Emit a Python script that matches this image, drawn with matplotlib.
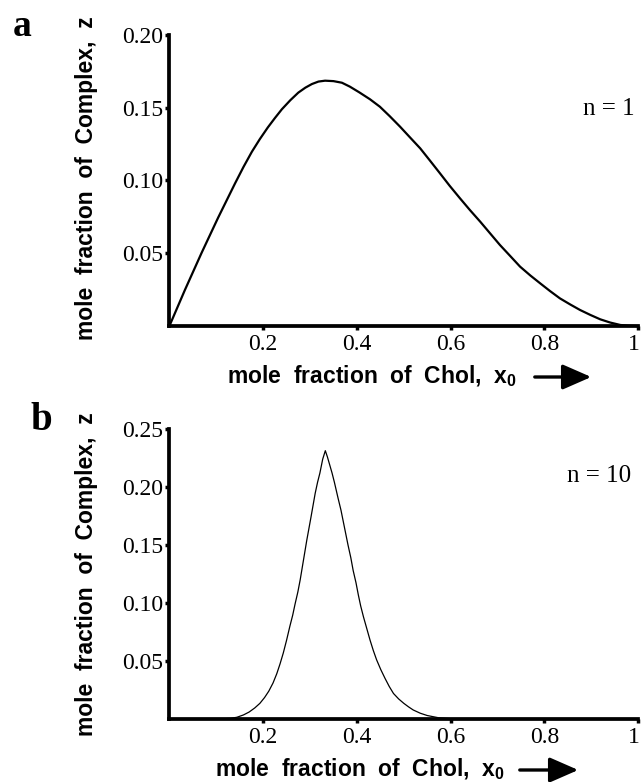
import matplotlib
matplotlib.use("Agg")
import matplotlib.pyplot as plt
from matplotlib.patches import FancyArrowPatch
from matplotlib.transforms import ScaledTranslation

# panel a: n = 1
x_a = [0.0, 0.033, 0.069, 0.104, 0.140, 0.158, 0.176, 0.193, 0.210, 0.225,
       0.240, 0.258, 0.275, 0.290, 0.304, 0.318, 0.332, 0.350, 0.368, 0.385,
       0.405, 0.428, 0.449, 0.470, 0.492, 0.513, 0.535, 0.556, 0.577, 0.598,
       0.620, 0.641, 0.663, 0.684, 0.705, 0.727, 0.748, 0.770, 0.791, 0.812,
       0.833, 0.855, 0.876, 0.898, 0.919, 0.940, 0.962, 0.980, 1.0]
z_a = [0.0, 0.0247, 0.0505, 0.0745, 0.098, 0.1093, 0.1198, 0.1285, 0.1365, 0.1429,
       0.149, 0.1552, 0.1604, 0.1638, 0.1663, 0.168, 0.1686, 0.1683, 0.1672, 0.1645,
       0.1606, 0.1558, 0.1507, 0.1442, 0.137, 0.1297, 0.1221, 0.1136, 0.105, 0.0963,
       0.0877, 0.0797, 0.0717, 0.0637, 0.0557, 0.0481, 0.0408, 0.0347, 0.0293, 0.0240,
       0.019, 0.0148, 0.011, 0.0076, 0.0046, 0.0024, 0.0007, 0.0002, 0.0]

# panel b: n = 10
x_b = [0.0, 0.10, 0.130, 0.144, 0.158, 0.17, 0.182, 0.193, 0.203, 0.212,
       0.221, 0.229, 0.236, 0.243, 0.250, 0.257, 0.263, 0.268, 0.274, 0.279,
       0.286, 0.293, 0.302, 0.311, 0.316, 0.321, 0.327, 0.3326, 0.337, 0.342,
       0.347, 0.352, 0.360, 0.366, 0.371, 0.376, 0.381, 0.387, 0.392, 0.398,
       0.403, 0.408, 0.414, 0.421, 0.428, 0.435, 0.442, 0.451, 0.46, 0.469,
       0.478, 0.489, 0.50, 0.51, 0.52, 0.535, 0.55, 0.575, 0.60, 0.65, 1.0]
z_b = [0.0, 0.0, 0.0005, 0.0015, 0.0035, 0.006, 0.0095, 0.0135, 0.0185, 0.024,
       0.031, 0.039, 0.0475, 0.057, 0.068, 0.080, 0.0895, 0.099, 0.1095, 0.120,
       0.137, 0.154, 0.174, 0.1946, 0.204, 0.212, 0.224, 0.2313, 0.226, 0.219,
       0.212, 0.204, 0.190, 0.180, 0.170, 0.160, 0.150, 0.139, 0.128, 0.1175,
       0.107, 0.0975, 0.088, 0.078, 0.068, 0.059, 0.051, 0.0425, 0.035, 0.028,
       0.022, 0.0173, 0.0135, 0.0105, 0.0078, 0.005, 0.003, 0.001, 0.0003, 0.0, 0.0]

x_ticks = [0.2, 0.4, 0.6, 0.8, 1.0]
x_ticklabels = ["0.2", "0.4", "0.6", "0.8", "1"]
y_ticks_a = [0.05, 0.10, 0.15, 0.20]
y_ticks_b = [0.05, 0.10, 0.15, 0.20, 0.25]

W, H = 642, 782
SERIF = "Liberation Serif"
SANS = "Liberation Sans"

plt.rcParams["mathtext.fontset"] = "custom"
plt.rcParams["mathtext.bf"] = "Liberation Sans:bold"
plt.rcParams["mathtext.rm"] = "Liberation Sans"


def fx(px):
    return px / W


def fy(py):
    return 1 - py / H


def _style(ax, yticks, ymax):
    ax.set_xlim(0, 1)
    ax.set_ylim(0, ymax)
    for s in ("top", "right"):
        ax.spines[s].set_visible(False)
    for s in ("left", "bottom"):
        ax.spines[s].set_linewidth(2.7)
    ax.set_xticks(x_ticks)
    ax.set_xticklabels(x_ticklabels)
    ax.set_yticks(yticks)
    ax.set_yticklabels([f"{v:.2f}" for v in yticks])
    ax.tick_params(length=3, width=2.5, labelsize=17)
    ax.tick_params(axis="y", pad=1.5)
    ax.tick_params(axis="x", pad=2.5)
    for lab in ax.get_xticklabels() + ax.get_yticklabels():
        lab.set_fontfamily(SERIF)
    # keep the "1" at the right edge inside the figure
    last = ax.get_xticklabels()[-1]
    last.set_transform(last.get_transform()
                       + ScaledTranslation(-4 / 100, 0, fig.dpi_scale_trans))


def _arrow(x0, x1, y):
    fig.add_artist(FancyArrowPatch(
        (fx(x0), fy(y)), (fx(x1), fy(y)), transform=fig.transFigure,
        arrowstyle="-|>,head_length=1.6,head_width=0.7",
        lw=2.4, color="black", mutation_scale=11))


fig = plt.figure(figsize=(W / 100, H / 100), dpi=100, facecolor="white")

ax_a = fig.add_axes([fx(169.4), fy(326), fx(638.2) - fx(169.4), fy(35) - fy(326)])
ax_b = fig.add_axes([fx(169.4), fy(719), fx(638.2) - fx(169.4), fy(429) - fy(719)])

_style(ax_a, y_ticks_a, 0.20)
_style(ax_b, y_ticks_b, 0.25)

ax_a.plot(x_a, z_a, color="black", lw=1.6, clip_on=False)
ax_b.plot(x_b, z_b, color="black", lw=0.9, clip_on=False)

# n labels
fig.text(fx(635), fy(115), "n = 1", family=SERIF, fontsize=18,
         ha="right", va="baseline")
fig.text(fx(631), fy(482), "n = 10", family=SERIF, fontsize=18,
         ha="right", va="baseline")

# panel letters
fig.text(fx(13), fy(36), "a", family=SERIF, fontsize=27, weight="bold",
         ha="left", va="baseline")
fig.text(fx(30), fy(430), "b", family=SERIF, fontsize=28, weight="bold",
         ha="left", va="baseline")

# y labels
ylab = "mole  fraction  of  Complex,  z"
fig.text(fx(87), fy(178), ylab, family=SANS, fontsize=16.5, weight="bold",
         rotation=90, ha="center", va="center")
fig.text(fx(87), fy(574), ylab, family=SANS, fontsize=16.5, weight="bold",
         rotation=90, ha="center", va="center")

# x labels with arrows
xlab = r"mole  fraction  of  Chol,  x$_{\mathbf{0}}$"
fig.text(fx(227), fy(383), xlab, family=SANS, fontsize=16.5, weight="bold",
         ha="left", va="baseline")
fig.text(fx(215), fy(776), xlab, family=SANS, fontsize=16.5, weight="bold",
         ha="left", va="baseline")

_arrow(532, 594, 377)
_arrow(517, 581, 770)

fig.savefig("out.png", dpi=100, facecolor="white")
